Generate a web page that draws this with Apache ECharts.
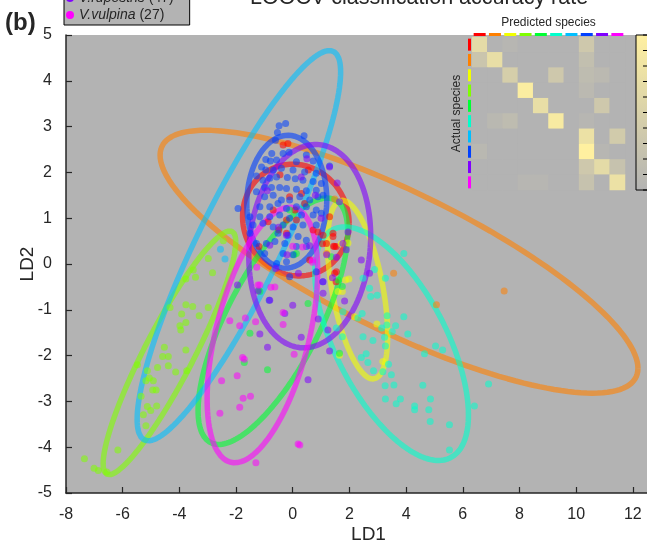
<!DOCTYPE html>
<html><head><meta charset="utf-8">
<script src="https://cdn.jsdelivr.net/npm/echarts@6/dist/echarts.min.js"></script>
<style>html,body{margin:0;padding:0;background:#fff}#c{width:647px;height:546px}</style>
</head><body><div id="c"></div>
<script>
// ---------- data ----------
const seriesNames = ['species 1','species 2','species 3','species 4','species 5','species 6','species 7','species 8','V.rupestris (47)','V.vulpina (27)'];
const colors = ['#ff0000','#ff8000','#f2ff00','#80ff00','#00ff33','#00ffcc','#00bfff','#0040ff','#8000ff','#ff00ff'];
const xTicks = [-8,-6,-4,-2,0,2,4,6,8,10,12];
const yTicks = [-5,-4,-3,-2,-1,0,1,2,3,4,5];

// confidence ellipses: center, half horizontal extent, half vertical extent, tilt (y of rightmost point relative to Ry)
const ellCx = [0.11, 3.75, 2.29, -4.35, -0.70, 3.49, -1.90, -0.21, 0.60, -1.07];
const ellCy = [0.96, 0.05, -0.56, -1.94, -1.25, -1.74, 0.40, 1.36, 0.39, -1.55];
const ellRx = [1.88, 8.43, 1.06, 2.34, 2.64, 2.71, 3.59, 1.41, 2.15, 1.95];
const ellRy = [1.22, 2.87, 1.95, 2.66, 2.69, 2.55, 4.26, 1.45, 2.22, 2.79];
const ellK  = [-0.06, -0.81, -0.51, 0.91, 0.725, -0.61, 0.89, 0.03, 0.10, 0.50];

const redPts = [[-0.34,2.60],[-0.17,2.63],[-1.19,0.38],[-0.87,0.92],[-0.11,1.47],[0.08,1.18],[0.31,1.54],[0.13,0.96],[-0.49,0.74],[-0.22,0.67],[0.89,0.70],[1.30,1.03],[1.42,0.60],[1.07,0.63],[1.48,0.38],[0.60,0.09],[1.48,-0.20],[1.53,-0.39],[1.19,0.45],[-0.69,1.18],[-0.22,0.96],[0.42,1.32],[0.72,0.74],[1.42,0.67],[1.54,0.38],[1.44,0.39],[1.54,-0.17],[1.05,0.44],[-0.45,1.95],[0.55,2.05]];
const orangePts = [[1.19,0.23],[3.56,-0.20],[5.07,-0.89],[7.46,-0.59],[1.48,1.42]];
const yellowPts = [[1.71,0.44],[1.95,0.46],[1.75,-0.60],[1.98,-0.33],[2.97,-1.31],[3.18,-2.13],[2.18,-1.15],[1.65,-1.99],[1.60,-0.60],[1.86,-0.35]];
const limePts = [[-2.45,0.51],[-2.98,0.12],[-2.83,-0.19],[-3.51,-0.13],[-3.43,-0.29],[-3.77,-0.33],[-4.33,-0.95],[-3.77,-0.89],[-3.53,-0.93],[-2.98,-0.95],[-3.92,-1.09],[-3.30,-1.13],[-3.77,-1.28],[-3.98,-1.35],[-3.95,-1.44],[-4.53,-1.82],[-3.77,-1.88],[-4.59,-2.02],[-4.39,-2.02],[-4.39,-2.22],[-5.48,-2.20],[-4.77,-2.26],[-4.13,-2.36],[-3.74,-2.33],[-5.13,-2.33],[-5.18,-2.55],[-5.06,-2.49],[-4.92,-2.55],[-4.94,-2.75],[-4.82,-2.75],[-5.35,-2.89],[-5.13,-3.11],[-4.80,-3.10],[-5.01,-3.20],[-5.27,-3.29],[-5.18,-3.53],[-6.17,-4.06],[-7.35,-4.25],[-7.01,-4.46],[-6.86,-4.51],[-6.56,-4.54]];
const greenPts = [[-1.51,-1.51],[-1.71,-2.15],[-0.89,-2.31],[0.54,-0.86],[-1.20,-0.57],[-0.11,1.18],[0.13,0.23],[0.05,0.20],[-1.16,-0.60],[1.36,0.16],[1.75,-0.49],[1.65,-1.95],[1.60,-0.35]];
const cyanPts = [[3.92,0.23],[2.89,-0.12],[3.27,-0.31],[2.48,-0.31],[2.71,-0.53],[2.75,-0.71],[2.98,-0.68],[1.77,-1.04],[2.45,-1.08],[2.30,-1.18],[3.33,-1.13],[3.92,-1.15],[3.14,-1.40],[3.32,-1.33],[3.63,-1.35],[3.51,-1.48],[4.06,-1.53],[2.48,-1.59],[1.75,-1.59],[2.83,-1.67],[3.24,-1.60],[3.27,-1.79],[5.04,-1.79],[5.29,-1.88],[4.65,-1.96],[2.42,-2.04],[2.59,-1.96],[2.65,-2.15],[3.38,-2.19],[3.18,-2.35],[3.48,-2.42],[2.85,-2.33],[3.26,-2.66],[3.57,-2.64],[4.59,-2.65],[4.86,-2.95],[3.80,-2.95],[3.65,-3.05],[3.27,-2.95],[4.30,-3.10],[4.30,-3.18],[4.80,-3.18],[4.85,-3.44],[6.41,-3.10],[5.53,-3.51],[5.53,-4.06],[6.91,-2.62],[1.54,-1.40]];
const skyPts = [[-2.39,0.11],[-2.55,0.32]];
const bluePts = [[-0.48,3.02],[-0.25,3.07],[-0.54,2.87],[0.40,2.80],[-0.61,2.70],[-0.74,2.41],[-0.34,2.41],[-0.13,2.44],[0.48,2.38],[0.72,2.25],[1.30,2.14],[-0.95,2.28],[-0.79,2.25],[-0.57,2.27],[-1.10,2.12],[-0.95,2.05],[-0.69,2.05],[-0.40,2.09],[0.13,2.23],[0.01,2.05],[0.42,2.01],[0.83,1.98],[-1.28,1.92],[-1.05,1.83],[-0.81,1.87],[-0.57,1.90],[-0.19,1.89],[0.09,1.86],[0.36,1.83],[0.72,1.80],[1.01,1.76],[-0.99,1.67],[-0.75,1.67],[-0.46,1.67],[-0.22,1.65],[0.13,1.63],[0.48,1.60],[0.83,1.61],[-1.28,1.58],[-0.99,1.47],[-0.69,1.50],[-0.40,1.40],[-0.11,1.40],[0.25,1.47],[0.60,1.40],[0.89,1.47],[1.07,1.50],[-1.16,1.25],[-0.81,1.25],[-0.52,1.32],[-0.22,1.21],[0.13,1.25],[0.48,1.25],[0.83,1.18],[-1.93,1.21],[-1.51,1.03],[-1.16,1.03],[-0.81,1.03],[-0.46,1.07],[-0.11,1.00],[0.31,1.07],[0.72,1.07],[1.01,1.11],[-1.40,0.85],[-1.05,0.89],[-0.69,0.81],[-0.34,0.85],[0.01,0.81],[0.36,0.85],[0.83,0.85],[-0.52,0.67],[-0.17,0.63],[0.19,0.60],[0.48,0.52],[-1.51,0.67],[-1.28,0.45],[-0.93,0.45],[-0.63,0.49],[-0.28,0.45],[0.13,0.38],[0.48,0.38],[-0.99,0.23],[-0.34,0.23],[0.01,0.20],[-0.22,0.05],[-0.57,0.01],[-0.11,-0.28],[0.83,-0.17],[-0.83,-0.79],[1.06,-0.39]];
const violetPts = [[-1.95,-0.46],[-1.22,-0.59],[-1.16,-1.53],[-0.89,-1.82],[-0.81,-0.79],[-0.28,-1.08],[0.54,-2.53],[-0.81,0.41],[-0.22,0.63],[1.30,2.12],[1.57,1.77],[1.95,0.70],[1.77,0.45],[1.65,1.36],[2.71,-0.20],[2.42,0.09],[1.07,-0.64],[1.07,-0.39],[1.83,-0.81],[1.24,-1.44],[1.89,0.31],[1.54,0.15],[0.30,1.90],[0.80,1.50],[-0.50,0.80],[0.60,0.40],[1.00,1.00],[-0.90,1.60],[0.20,-0.20],[1.20,0.20],[0.50,2.30],[-0.20,0.20],[1.40,-0.30],[0.00,-0.90],[-0.60,-0.10],[0.90,-1.20],[1.30,-1.90],[0.30,-1.60]];
const magentaPts = [[-2.22,-1.24],[-1.67,-1.18],[-1.87,-1.35],[-1.31,-1.26],[-1.16,-0.46],[-0.77,-0.51],[-0.34,-1.32],[-0.34,-1.06],[0.05,-1.97],[-1.77,-2.04],[-1.71,-2.08],[-1.96,-2.44],[-2.51,-2.55],[-1.75,-2.93],[-1.49,-2.89],[-1.87,-3.13],[-2.57,-3.26],[0.19,-3.93],[-1.30,-4.34],[0.00,0.39],[0.35,0.37],[-1.27,-0.07],[-1.23,-0.46],[-0.63,-0.50],[0.70,0.09],[0.25,-3.95],[0.70,0.04]];
const allPts = [redPts, orangePts, yellowPts, limePts, greenPts, cyanPts, skyPts, bluePts, violetPts, magentaPts];

// confusion matrix (rows: actual, cols: predicted), relative intensity
const confRows = [
  [0.65,0,0.05,0,0,0,0,0.35,0,0],
  [0.30,0.70,0,0,0,0,0,0.20,0,0],
  [0,0,0.45,0,0,0.35,0,0.15,0.10,0],
  [0,0,0,0.95,0,0,0,0.10,0,0],
  [0,0,0,0,0.70,0,0,0,0.35,0],
  [0,0.08,0.15,0,0,0.90,0,0.05,0,0],
  [0,0,0,0,0,0,0,0.75,0,0.40],
  [0.08,0,0,0,0,0,0,1.00,0.05,0],
  [0,0,0,0,0,0,0,0.35,0.65,0.25],
  [0,0,0,0.05,0.05,0,0,0.25,0,0.75]
];
const speciesIdx = ['1','2','3','4','5','6','7','8','9','10'];

// ---------- build ----------
function ellipsePts(i) {
  const phi = Math.acos(ellK[i]);
  const out = [];
  for (let s = 0; s <= 160; s++) {
    const t = 2 * Math.PI * s / 160;
    out.push([ellCx[i] + ellRx[i] * Math.cos(t), ellCy[i] + ellRy[i] * Math.cos(t - phi)]);
  }
  return out;
}
const heatData = [];
confRows.forEach((row, r) => row.forEach((v, c) => heatData.push([c, r, v])));

const series = [];
for (let i = 0; i < 10; i++) {
  series.push({
    type: 'line', name: 'ell' + i, data: ellipsePts(i), showSymbol: false, silent: true,
    xAxisIndex: 0, yAxisIndex: 0, z: 2,
    lineStyle: { color: colors[i], width: 5.5, opacity: 0.6 }
  });
}
for (let i = 0; i < 10; i++) {
  series.push({
    type: 'scatter', name: seriesNames[i], data: allPts[i], symbolSize: 7,
    xAxisIndex: 0, yAxisIndex: 0, z: 3,
    itemStyle: { color: colors[i], opacity: 0.55 }
  });
}
series.push({
  type: 'heatmap', data: heatData, xAxisIndex: 1, yAxisIndex: 1, z: 5
});

const richX = {}, richY = {};
colors.forEach((c, i) => {
  richX['c' + i] = { width: 12, height: 3, lineHeight: 3, fontSize: 1, backgroundColor: c };
  richY['c' + i] = { width: 3, height: 12, lineHeight: 12, fontSize: 1, backgroundColor: c };
});

const txt = '#262626';
const font = 'Liberation Sans, Arial, sans-serif';
const cbTicks = [];
for (let k = 0; k <= 10; k++) {
  cbTicks.push({ type: 'line', shape: { x1: 643, y1: 35 + k * 15.5, x2: 647, y2: 35 + k * 15.5 }, style: { stroke: '#000', lineWidth: 1 }, z: 20 });
}

const chart = echarts.init(document.getElementById('c'), null, { renderer: 'canvas' });
chart.setOption({
  animation: false,
  backgroundColor: '#ffffff',
  textStyle: { fontFamily: font },
  title: {
    text: 'LOOCV classification accuracy rate', left: 250, top: -13, padding: 0,
    textStyle: { fontSize: 21.5, fontWeight: 'normal', color: txt, fontFamily: font }
  },
  legend: {
    data: [
      { name: 'V.rupestris (47)', itemStyle: { color: colors[8], opacity: 1 } },
      { name: 'V.vulpina (27)', itemStyle: { color: colors[9], opacity: 1 } }
    ],
    orient: 'vertical', left: 64, top: -13, icon: 'circle',
    itemWidth: 8, itemHeight: 8, itemGap: 3, itemTextGap: 3,
    padding: [4, 16, 3, 2], backgroundColor: '#b3b3b3', borderColor: '#000', borderWidth: 1,
    selectedMode: false,
    formatter: function (name) {
      const m = name.match(/^(\S+)\s(.*)$/);
      return '{i|' + m[1] + '} {n|' + m[2] + '}';
    },
    textStyle: {
      fontSize: 14, lineHeight: 14, color: txt, fontFamily: font,
      rich: { i: { fontStyle: 'italic', fontSize: 14, color: txt }, n: { fontSize: 14, color: txt } }
    }
  },
  grid: [
    { left: 66, top: 35, right: 0, bottom: 53, show: true, backgroundColor: '#b3b3b3', borderWidth: 0, outerBoundsMode: 'none', containLabel: false },
    { left: 472, top: 37, width: 153, height: 153, show: false, outerBoundsMode: 'none', containLabel: false }
  ],
  xAxis: [
    {
      type: 'value', gridIndex: 0, min: -8, max: 12.5, interval: 2,
      name: 'LD1', nameLocation: 'middle', nameGap: 32, nameMoveOverlap: false,
      nameTextStyle: { fontSize: 19, color: txt, padding: [0, 0, 0, 24] },
      axisLine: { show: true, onZero: false, lineStyle: { color: txt, width: 1.5 } },
      axisTick: { show: true, inside: true, length: 6, customValues: xTicks, lineStyle: { color: txt, width: 1.2 } },
      axisLabel: { customValues: xTicks, fontSize: 16, color: txt, margin: 14 },
      splitLine: { show: false }
    },
    {
      type: 'category', gridIndex: 1, data: speciesIdx, position: 'top',
      name: 'Predicted species', nameLocation: 'middle', nameGap: 8,
      nameTextStyle: { fontSize: 12, color: txt, verticalAlign: 'bottom' },
      axisLine: { show: false }, axisTick: { show: false },
      axisLabel: { interval: 0, margin: 1, formatter: (v, i) => '{c' + i + '| }', rich: richX },
      splitLine: { show: false }
    }
  ],
  yAxis: [
    {
      type: 'value', gridIndex: 0, min: -5, max: 5, interval: 1,
      name: 'LD2', nameLocation: 'middle', nameGap: 29, nameMoveOverlap: false,
      nameTextStyle: { fontSize: 19, color: txt },
      axisLine: { show: true, onZero: false, lineStyle: { color: txt, width: 1.5 } },
      axisTick: { show: true, inside: true, length: 6, customValues: yTicks, lineStyle: { color: txt, width: 1.2 } },
      axisLabel: { customValues: yTicks, fontSize: 16, color: txt, margin: 14 },
      splitLine: { show: false }
    },
    {
      type: 'category', gridIndex: 1, data: speciesIdx, inverse: true,
      name: 'Actual species', nameLocation: 'middle', nameGap: 9,
      nameTextStyle: { fontSize: 12, color: txt },
      axisLine: { show: false }, axisTick: { show: false },
      axisLabel: { interval: 0, margin: 1, formatter: (v, i) => '{c' + i + '| }', rich: richY },
      splitLine: { show: false }
    }
  ],
  visualMap: {
    show: false, type: 'continuous', seriesIndex: 20, min: 0, max: 1, dimension: 2,
    inRange: { color: ['#b3b3b3', '#fff0a0'] }
  },
  graphic: [
    { type: 'text', left: 5, top: 11, style: { text: '(b)', fontSize: 24, fontWeight: 'bold', fill: txt, fontFamily: font }, z: 20 },
    {
      type: 'rect', shape: { x: 636, y: 35, width: 14, height: 155 }, z: 19,
      style: {
        fill: new echarts.graphic.LinearGradient(0, 0, 0, 1, [{ offset: 0, color: '#fff0a0' }, { offset: 1, color: '#b3b3b3' }]),
        stroke: '#000', lineWidth: 1
      }
    }
  ].concat(cbTicks),
  series: series
});
</script></body></html>
